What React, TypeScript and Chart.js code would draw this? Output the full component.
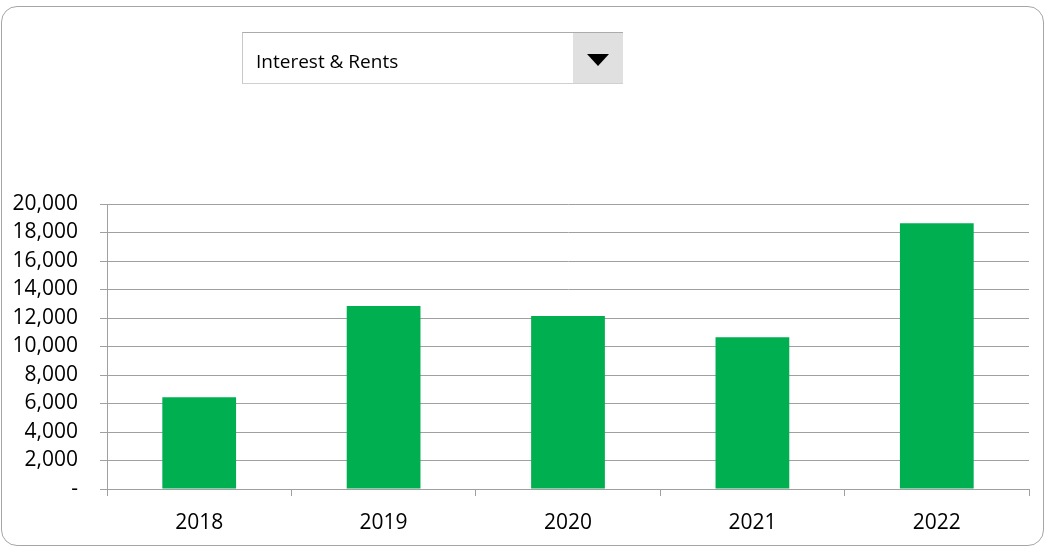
import React, { useEffect, useRef } from "react";
import { Chart, registerables } from "chart.js";

Chart.register(...registerables);

const categories = ["2018", "2019", "2020", "2021", "2022"];
const values = [6430, 12840, 12140, 10650, 18650];
const yMin = 0;
const yMax = 20000;
const yStep = 2000;
const selectedItem = "Interest & Rents";

export default function App() {
  const canvasRef = useRef<HTMLCanvasElement | null>(null);

  useEffect(() => {
    if (!canvasRef.current) return;
    const chart = new Chart(canvasRef.current, {
      type: "bar",
      data: {
        labels: categories,
        datasets: [
          {
            data: values,
            backgroundColor: "#00B050",
            borderWidth: 0,
            barPercentage: 0.4,
            categoryPercentage: 1,
          },
        ],
      },
      options: {
        animation: false,
        responsive: false,
        maintainAspectRatio: false,
        layout: { padding: { left: 0, right: 28, top: 204, bottom: 0 } },
        plugins: { legend: { display: false }, tooltip: { enabled: false } },
        scales: {
          x: {
            offset: true,
            grid: {
              offset: true,
              drawOnChartArea: false,
              drawTicks: true,
              tickLength: 7,
              color: "#A0A0A0",
            },
            border: { display: true, color: "#A0A0A0" },
            ticks: {
              color: "#000",
              font: { family: "'Open Sans'", size: 21 },
              padding: 14,
            },
            afterFit: (s: any) => {
              s.height = 57;
            },
          },
          y: {
            min: yMin,
            max: yMax,
            grid: { color: "#A0A0A0", tickLength: 7, drawTicks: true },
            border: { display: true, color: "#A0A0A0" },
            ticks: {
              stepSize: yStep,
              color: "#000",
              padding: 22,
              font: { family: "'Open Sans'", size: 21 },
              callback: (v: any) =>
                Number(v) === 0 ? "-" : Number(v).toLocaleString("en-US"),
            },
            afterFit: (s: any) => {
              s.width = 107;
            },
          },
        },
      },
    });
    return () => chart.destroy();
  }, []);

  return (
    <div
      style={{
        position: "fixed",
        left: 0,
        top: 0,
        width: 1057,
        height: 546,
        background: "#fff",
        overflow: "hidden",
      }}
    >
      <div
        style={{
          position: "absolute",
          left: 1,
          top: 6,
          width: 1043,
          height: 540,
          boxSizing: "border-box",
          border: "1px solid #A6A6A6",
          borderRadius: 16,
        }}
      />
      <canvas
        ref={canvasRef}
        width={1057}
        height={546}
        style={{ position: "absolute", left: 0, top: 0, width: 1057, height: 546 }}
      />
      <div
        style={{
          position: "absolute",
          left: 242,
          top: 32,
          width: 381,
          height: 52,
          boxSizing: "border-box",
          borderTop: "1px solid #ABABAB",
          borderLeft: "1px solid #C8C8C8",
          borderBottom: "1px solid #D0D0D0",
          background: "#fff",
          fontFamily: "'Open Sans', sans-serif",
        }}
      >
        <div
          style={{
            position: "absolute",
            left: 13,
            top: 3,
            height: 50,
            lineHeight: "50px",
            fontSize: 19,
            color: "#000",
          }}
        >
          {selectedItem}
        </div>
        <div
          style={{
            position: "absolute",
            right: 0,
            top: 0,
            width: 50,
            height: 50,
            background: "#E0E0E0",
          }}
        >
          <div
            style={{
              position: "absolute",
              left: 14,
              top: 21,
              width: 0,
              height: 0,
              borderLeft: "11px solid transparent",
              borderRight: "11px solid transparent",
              borderTop: "12px solid #000",
            }}
          />
        </div>
      </div>
    </div>
  );
}
